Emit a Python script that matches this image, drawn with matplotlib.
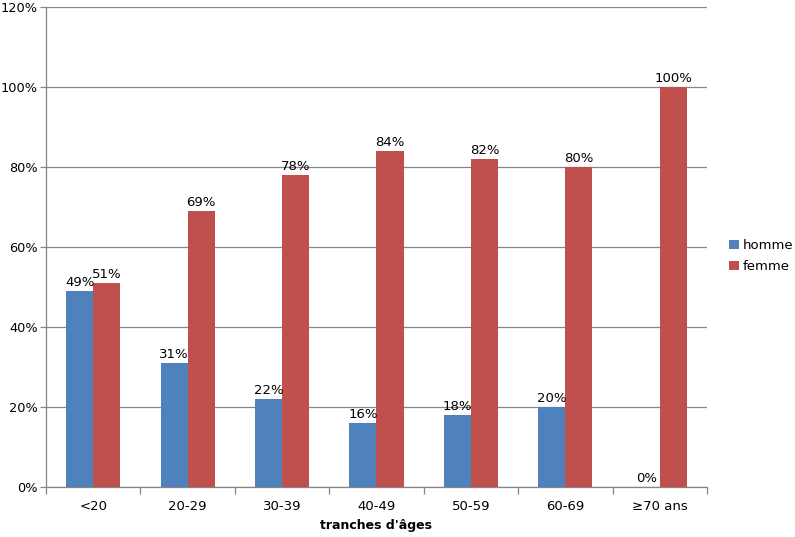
import matplotlib
matplotlib.use("Agg")
import matplotlib.pyplot as plt
import numpy as np

categories = ["<20", "20-29", "30-39", "40-49", "50-59", "60-69", "≥70 ans"]
homme = [49, 31, 22, 16, 18, 20, 0]
femme = [51, 69, 78, 84, 82, 80, 100]
series_names = ["homme", "femme"]
colors = ["#4F81BD", "#C0504D"]
yticks = [0, 20, 40, 60, 80, 100, 120]

plt.rcParams['font.family'] = ['DejaVu Sans']
fig = plt.figure(figsize=(7.95, 5.37), dpi=100)
ax = fig.add_axes([46/795, 1-487/537, 661/795, 480/537])

x = np.arange(len(categories))
w = 0.286
b1 = ax.bar(x - w/2, homme, w, color=colors[0], label=series_names[0], zorder=3)
b2 = ax.bar(x + w/2, femme, w, color=colors[1], label=series_names[1], zorder=3)

for bars, vals in ((b1, homme), (b2, femme)):
    for r, v in zip(bars, vals):
        ax.annotate(f"{v}%", (r.get_x() + r.get_width()/2, v), xytext=(0, 1.5),
                    textcoords="offset points", ha="center", va="bottom",
                    fontsize=9.5, color="black", zorder=4)

ax.set_xlim(-0.5, len(categories) - 0.5)
ax.set_ylim(0, 120)
ax.set_yticks(yticks)
ax.set_yticklabels([f"{t}%" for t in yticks], fontsize=9.3)
ax.yaxis.grid(True, color="#868686", linewidth=0.9, zorder=0)
ax.tick_params(axis="y", length=4, color="#868686", width=0.9, pad=2)

ax.set_xticks(x)
ax.set_xticklabels(categories, fontsize=9.5)
ax.set_xticks(np.arange(len(categories) + 1) - 0.5, minor=True)
ax.tick_params(axis="x", which="major", length=0, pad=9)
ax.tick_params(axis="x", which="minor", length=5, color="#868686", width=0.9)

for s in ["top", "right"]:
    ax.spines[s].set_visible(False)
for s in ["left", "bottom"]:
    ax.spines[s].set_color("#868686")
    ax.spines[s].set_linewidth(0.9)

ax.set_xlabel("tranches d'âges", fontsize=9, fontweight="bold", labelpad=5)

fig.legend(loc="center left", bbox_to_anchor=(724/795, 1-256/537), frameon=False,
           fontsize=9.5, handlelength=0.7, handleheight=0.7, handletextpad=0.35,
           labelspacing=0.6, borderaxespad=0)

fig.savefig("out.png", dpi=100)
